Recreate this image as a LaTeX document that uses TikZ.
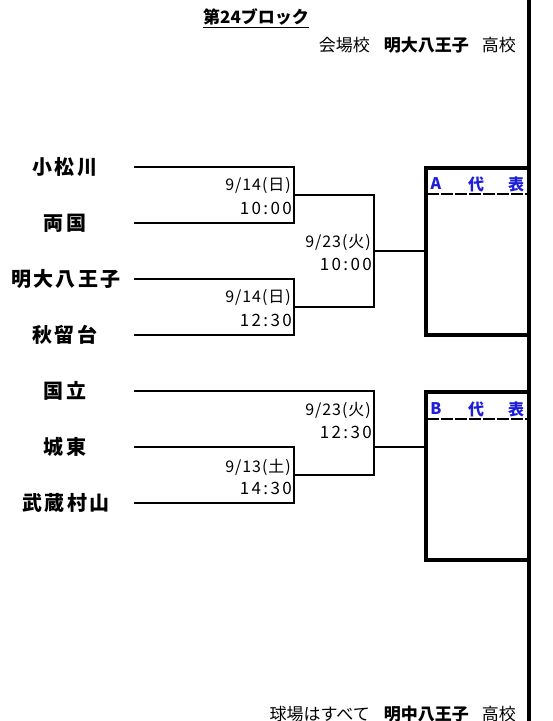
\documentclass[tikz,border=0pt]{standalone}
\usepackage{fontspec}
\setmainfont{Noto Sans CJK JP}
\newfontfamily\jpteam{Noto Sans CJK JP}[LetterSpace=12]
\newfontfamily\jpdate{Noto Sans CJK JP}[LetterSpace=6]
\newfontfamily\jptime{Noto Sans CJK JP}[LetterSpace=14]
\definecolor{hdrblue}{RGB}{30,30,215}
\begin{document}
\begin{tikzpicture}[x=1pt,y=-1pt,
  team/.style={inner sep=0pt, font=\jpteam\fontsize{20}{20}\selectfont\bfseries},
  dlab/.style={anchor=east, inner sep=0pt, font=\jpdate\fontsize{16}{16}\selectfont},
  tlab/.style={anchor=east, inner sep=0pt, font=\jptime\fontsize{17}{17}\selectfont},
  br/.style={line width=2pt},
  box/.style={draw, line width=3.5pt, minimum width=103pt, inner sep=0pt},
  hdr/.style={inner sep=0pt, text=hdrblue, font=\fontsize{16}{16}\selectfont\bfseries},
  dsh/.style={line width=1.8pt, dash pattern=on 12pt off 2pt},
  info/.style={inner sep=0pt, anchor=east, font=\fontsize{17}{17}\selectfont}
]
\useasboundingbox (0,0) rectangle (553,721);
% title
\node[inner sep=0pt, font=\fontsize{17}{17}\selectfont\bfseries] (title) at (256,18) {\underline{第24ブロック}};
\node[info] (venue) at (516,45) {会場校\hspace{14pt}\textbf{明大八王子}\hspace{13pt}高校};
\node[info] (foot) at (516,714) {球場はすべて\hspace{14pt}\textbf{明中八王子}\hspace{13pt}高校};
% right bar
\coordinate (barT) at (529,0);
\coordinate (barB) at (529,721);
\draw[line width=4pt] (barT) -- (barB);
% teams
\node[team] (t1) at (65,167) {小松川};
\node[team] (t2) at (65,223) {両国};
\node[team] (t3) at (66,279) {明大八王子};
\node[team] (t4) at (65,335) {秋留台};
\node[team] (t5) at (65,391) {国立};
\node[team] (t6) at (65,447) {城東};
\node[team] (t7) at (66,503) {武蔵村山};
\foreach \i/\y in {1/167,2/223,3/279,4/335,5/391,6/447,7/503}
  \coordinate (s\i) at (134,\y);
% match points
\coordinate (m1) at (294,195);
\coordinate (m2) at (294,307);
\coordinate (m3) at (294,475);
\coordinate (q1) at (374,251);
\coordinate (q2) at (374,447);
% boxes
\node[box, minimum height=167pt] (boxA) at (477.5,251.5) {};
\node[box, minimum height=168pt] (boxB) at (477.5,476) {};
% brackets
\draw[br] (s1) -| (m1);
\draw[br] (s2) -| (m1);
\draw[br] (s3) -| (m2);
\draw[br] (s4) -| (m2);
\draw[br] (m1) -| (q1);
\draw[br] (m2) -| (q1);
\draw[br] (q1) -- (q1 -| boxA.west);
\draw[br] (s6) -| (m3);
\draw[br] (s7) -| (m3);
\draw[br] (s5) -| (q2);
\draw[br] (m3) -| (q2);
\draw[br] (q2) -- (q2 -| boxB.west);
% dates
\node[dlab] (d1) at (291,186) {9/14(日)};
\node[tlab] (h1) at (292,208) {10:00};
\node[dlab] (d2) at (291,298) {9/14(日)};
\node[tlab] (h2) at (292,320) {12:30};
\node[dlab] (d3) at (371,242) {9/23(火)};
\node[tlab] (h3) at (372,264) {10:00};
\node[dlab] (d4) at (371,410) {9/23(火)};
\node[tlab] (h4) at (372,432) {12:30};
\node[dlab] (d5) at (291,467) {9/13(土)};
\node[tlab] (h5) at (292,488) {14:30};
% box headers
\node[hdr] (a1) at (436,184) {A};
\node[hdr] (a2) at (476,184) {代};
\node[hdr] (a3) at (516,184) {表};
\coordinate (da1) at (427,194);
\coordinate (da2) at (529,194);
\draw[dsh] (da1) -- (da2);
\node[hdr] (b1) at (436,409) {B};
\node[hdr] (b2) at (476,409) {代};
\node[hdr] (b3) at (516,409) {表};
\coordinate (db1) at (427,419);
\coordinate (db2) at (529,419);
\draw[dsh] (db1) -- (db2);
\end{tikzpicture}
\end{document}
